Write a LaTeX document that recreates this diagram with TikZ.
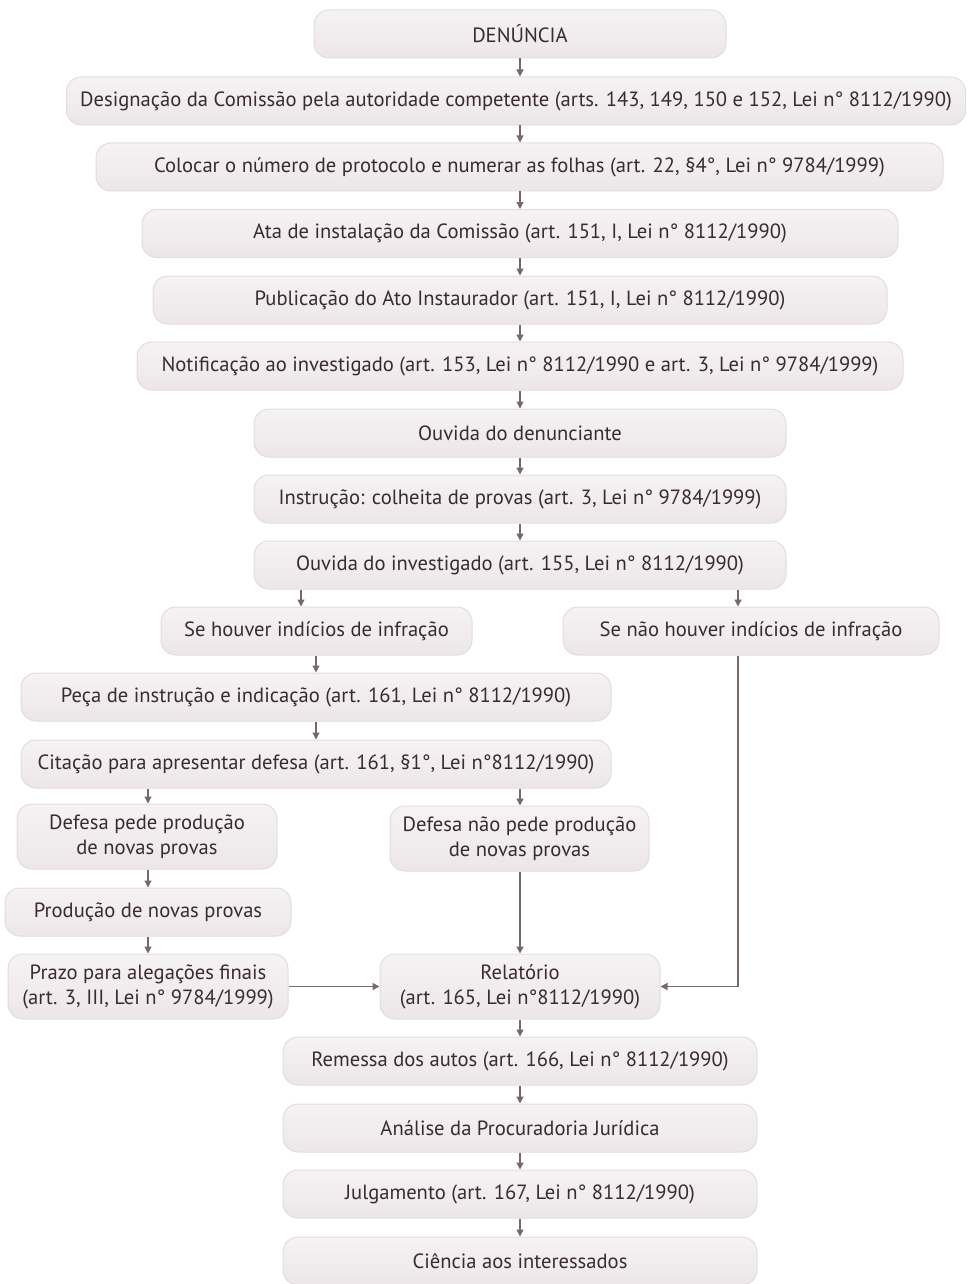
\documentclass[tikz,border=0pt]{standalone}
\usepackage{fontspec}
\setmainfont{PT Sans}
\usetikzlibrary{arrows.meta}
\definecolor{boxtop}{HTML}{F6F3F4}
\definecolor{boxbot}{HTML}{ECE6E8}
\definecolor{boxline}{HTML}{E2DCDE}
\definecolor{txt}{HTML}{3A2B2E}
\definecolor{arrc}{HTML}{75696C}
\begin{document}
\begin{tikzpicture}[x=1pt,y=-1pt,
  box/.style={rounded corners=15pt, draw=boxline, line width=1pt, top color=boxtop, bottom color=boxbot,
    text=txt, font=\fontsize{20.6}{25}\selectfont, inner sep=0pt, align=center},
  arr/.style={draw=arrc, line width=1.3pt, -{Triangle[length=7pt,width=7pt]}}]
\useasboundingbox (0,0) rectangle (968,1284);
\node[box, minimum width=412pt, minimum height=48pt] (den) at (520,34) {DENÚNCIA};
\node[box, minimum width=899pt, minimum height=48pt] (des) at (516,101) {Designação da Comissão pela autoridade competente (arts. 143, 149, 150 e 152, Lei n° 8112/1990)};
\node[box, minimum width=847pt, minimum height=48pt] (col) at (519.5,167) {Colocar o número de protocolo e numerar as folhas (art. 22, §4°, Lei n° 9784/1999)};
\node[box, minimum width=756pt, minimum height=48pt] (ata) at (520,233.5) {Ata de instalação da Comissão (art. 151, I, Lei n° 8112/1990)};
\node[box, minimum width=734pt, minimum height=48pt] (pub) at (520,300) {Publicação do Ato Instaurador (art. 151, I, Lei n° 8112/1990)};
\node[box, minimum width=766pt, minimum height=48pt] (not) at (520,366) {Notificação ao investigado (art. 153, Lei n° 8112/1990 e art. 3, Lei n° 9784/1999)};
\node[box, minimum width=532pt, minimum height=48pt] (ouva) at (520,433) {Ouvida do denunciante};
\node[box, minimum width=532pt, minimum height=48pt] (ins) at (520,499) {Instrução: colheita de provas (art. 3, Lei n° 9784/1999)};
\node[box, minimum width=532pt, minimum height=48pt] (ouvb) at (520,565) {Ouvida do investigado (art. 155, Lei n° 8112/1990)};
\node[box, minimum width=311pt, minimum height=48pt] (seh) at (316.5,631) {Se houver indícios de infração};
\node[box, minimum width=376pt, minimum height=48pt] (senh) at (751,631) {Se não houver indícios de infração};
\node[box, minimum width=590pt, minimum height=48pt] (pec) at (316,697) {Peça de instrução e indicação (art. 161, Lei n° 8112/1990)};
\node[box, minimum width=590pt, minimum height=48pt] (cit) at (316,764) {Citação para apresentar defesa (art. 161, §1°, Lei n°8112/1990)};
\node[box, minimum width=260pt, minimum height=65pt] (dpp) at (147,836.5) {Defesa pede produção\\de novas provas};
\node[box, minimum width=259pt, minimum height=65pt] (dnp) at (519.5,838.5) {Defesa não pede produção\\de novas provas};
\node[box, minimum width=286pt, minimum height=48pt] (pro) at (148,912) {Produção de novas provas};
\node[box, minimum width=280pt, minimum height=65pt] (pra) at (148,986.5) {Prazo para alegações finais\\(art. 3, III, Lei n° 9784/1999)};
\node[box, minimum width=280pt, minimum height=65pt] (rel) at (520,986.5) {Relatório\\(art. 165, Lei n°8112/1990)};
\node[box, minimum width=474pt, minimum height=48pt] (rem) at (520,1061) {Remessa dos autos (art. 166, Lei n° 8112/1990)};
\node[box, minimum width=474pt, minimum height=48pt] (ana) at (520,1128) {Análise da Procuradoria Jurídica};
\node[box, minimum width=474pt, minimum height=48pt] (jul) at (520,1194) {Julgamento (art. 167, Lei n° 8112/1990)};
\node[box, minimum width=474pt, minimum height=48pt] (cie) at (520,1261) {Ciência aos interessados};
% arrows
\draw[arr] (den.south) -- (520,0 |- des.north);
\draw[arr] (520,0 |- des.south) -- (520,0 |- col.north);
\draw[arr] (520,0 |- col.south) -- (ata.north);
\draw[arr] (ata.south) -- (pub.north);
\draw[arr] (pub.south) -- (not.north);
\draw[arr] (not.south) -- (ouva.north);
\draw[arr] (ouva.south) -- (ins.north);
\draw[arr] (ins.south) -- (ouvb.north);
\draw[arr] (301,0 |- ouvb.south) -- (301,0 |- seh.north);
\draw[arr] (738,0 |- ouvb.south) -- (738,0 |- senh.north);
\draw[arr] (316,0 |- seh.south) -- (316,0 |- pec.north);
\draw[arr] (pec.south) -- (cit.north);
\draw[arr] (148,0 |- cit.south) -- (148,0 |- dpp.north);
\draw[arr] (520,0 |- cit.south) -- (520,0 |- dnp.north);
\draw[arr] (148,0 |- dpp.south) -- (148,0 |- pro.north);
\draw[arr] (pro.south) -- (pra.north);
\draw[arr] (520,0 |- dnp.south) -- (rel.north);
\draw[arr] (pra.east) -- (rel.west);
\draw[arr] (738,0 |- senh.south) |- (rel.east);
\draw[arr] (rel.south) -- (rem.north);
\draw[arr] (rem.south) -- (ana.north);
\draw[arr] (ana.south) -- (jul.north);
\draw[arr] (jul.south) -- (cie.north);
\end{tikzpicture}
\end{document}
